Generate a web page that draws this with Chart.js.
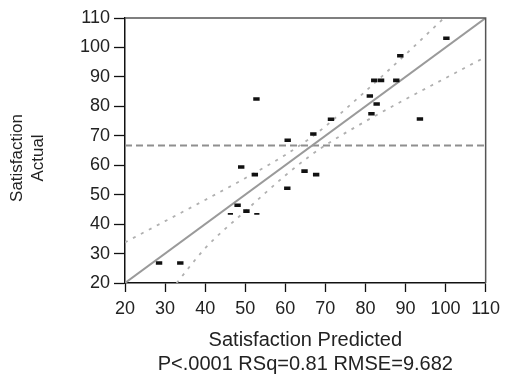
<!DOCTYPE html>
<html>
<head>
<meta charset="utf-8">
<script src="https://cdn.jsdelivr.net/npm/chart.js@4"></script>
<style>
  html, body { margin: 0; padding: 0; background: #fff; }
  #wrap { width: 506px; height: 383px; }
</style>
</head>
<body>
<div id="wrap"><canvas id="fitChart"></canvas></div>
<script>
// Observations: predicted vs actual satisfaction
const predicted = [28.5, 33.8, 46.3, 48.1, 50.3, 52.9, 49.0, 52.4, 52.8, 60.5, 60.6, 64.8,
                   67.7, 67.0, 71.4, 81.5, 82.8, 81.1, 82.2, 83.9, 87.7, 88.7, 93.6, 100.2];
const actual    = [26.8, 26.8, 43.5, 46.4, 44.4, 43.5, 59.4, 56.8, 82.5, 52.2, 68.5, 58.0,
                   56.8, 70.6, 75.6, 77.5, 80.8, 83.5, 88.8, 88.8, 88.8, 97.2, 75.7, 103.1];
// two of the marks are drawn thinner
const thinMarks = [2, 5];

// Fit line, mean line and confidence curves
const fitX = [20, 110];
const fitY = [20, 110];
const meanX = [20, 110];
const meanY = [66.7, 66.7];
const upperX = [20, 30, 40, 50, 60, 66, 70, 80, 90, 99.6];
const upperY = [33.8, 41.0, 48.2, 55.6, 63.5, 69.0, 73.2, 85.1, 97.6, 110];
const lowerX = [32.9, 40, 50, 60, 66, 70, 80, 90, 100, 110];
const lowerY = [20, 31.8, 44.4, 56.5, 63.0, 66.8, 74.9, 82.4, 89.6, 96.8];

const xTicks = [20, 30, 40, 50, 60, 70, 80, 90, 100, 110];
const yTicks = [20, 30, 40, 50, 60, 70, 80, 90, 100, 110];
const yTitle = ["Satisfaction", "Actual"];

const toPts = (xs, ys) => xs.map((x, i) => ({ x: x, y: ys[i] }));
const fontFamily = "'Liberation Sans', Arial, sans-serif";

// top and right edges of the frame, plus the two-line y title
const framePlugin = {
  id: "frame",
  afterDraw(chart) {
    const a = chart.chartArea;
    const ctx = chart.ctx;
    ctx.save();
    ctx.strokeStyle = "#555";
    ctx.lineWidth = 1.5;
    ctx.beginPath();
    ctx.moveTo(a.left, a.top);
    ctx.lineTo(a.right, a.top);
    ctx.lineTo(a.right, a.bottom);
    ctx.stroke();

    ctx.fillStyle = "#222";
    ctx.font = "17px " + fontFamily;
    ctx.textAlign = "center";
    ctx.textBaseline = "middle";
    yTitle.forEach((line, i) => {
      ctx.save();
      ctx.translate(17 + i * 21, 158);
      ctx.rotate(-Math.PI / 2);
      ctx.fillText(line, 0, 0);
      ctx.restore();
    });
    ctx.restore();
  }
};

const font = { family: fontFamily, size: 18 };

new Chart(document.getElementById("fitChart"), {
  type: "scatter",
  data: {
    datasets: [
      {
        label: "Observations",
        data: toPts(predicted, actual),
        pointStyle: "line",
        pointRadius: predicted.map((_, i) => thinMarks.includes(i) ? 2.6 : 3.2),
        pointBorderWidth: predicted.map((_, i) => thinMarks.includes(i) ? 1.8 : 3.6),
        borderColor: "#111",
        backgroundColor: "#111",
        showLine: false
      },
      {
        label: "Fit",
        data: toPts(fitX, fitY),
        showLine: true,
        borderColor: "#9a9a9a",
        borderWidth: 2,
        pointRadius: 0
      },
      {
        label: "Mean",
        data: toPts(meanX, meanY),
        showLine: true,
        borderColor: "#8f8f8f",
        borderWidth: 1.8,
        borderDash: [7, 4],
        pointRadius: 0
      },
      {
        label: "Upper",
        data: toPts(upperX, upperY),
        showLine: true,
        borderColor: "#b0b0b0",
        borderWidth: 1.8,
        borderDash: [3, 6],
        cubicInterpolationMode: "monotone",
        pointRadius: 0
      },
      {
        label: "Lower",
        data: toPts(lowerX, lowerY),
        showLine: true,
        borderColor: "#b0b0b0",
        borderWidth: 1.8,
        borderDash: [3, 6],
        cubicInterpolationMode: "monotone",
        pointRadius: 0
      }
    ]
  },
  options: {
    responsive: true,
    maintainAspectRatio: false,
    animation: false,
    layout: { padding: { top: 18, right: 19, left: 0, bottom: 0 } },
    plugins: {
      legend: { display: false },
      tooltip: { enabled: false }
    },
    scales: {
      x: {
        type: "linear",
        min: 20,
        max: 110,
        afterBuildTicks: scale => { scale.ticks = xTicks.map(v => ({ value: v })); },
        afterFit: scale => { scale.height = 100; },
        ticks: { color: "#222", font: font, padding: 6, maxRotation: 0 },
        grid: { drawOnChartArea: false, tickLength: 9, color: "#111", tickWidth: 1.3 },
        border: { color: "#111", width: 1.5 },
        title: {
          display: true,
          text: ["Satisfaction Predicted", "P<.0001 RSq=0.81 RMSE=9.682"],
          color: "#222",
          font: { family: fontFamily, size: 20, lineHeight: 1.2 },
          padding: { top: 4, bottom: 7 }
        }
      },
      y: {
        type: "linear",
        min: 20,
        max: 110,
        afterBuildTicks: scale => { scale.ticks = yTicks.map(v => ({ value: v })); },
        afterFit: scale => { scale.width = 125; },
        ticks: { color: "#222", font: font, padding: 4 },
        grid: { drawOnChartArea: false, tickLength: 11, color: "#111", tickWidth: 1.3 },
        border: { color: "#111", width: 1.5 },
        title: { display: false }
      }
    }
  },
  plugins: [framePlugin]
});
</script>
</body>
</html>
